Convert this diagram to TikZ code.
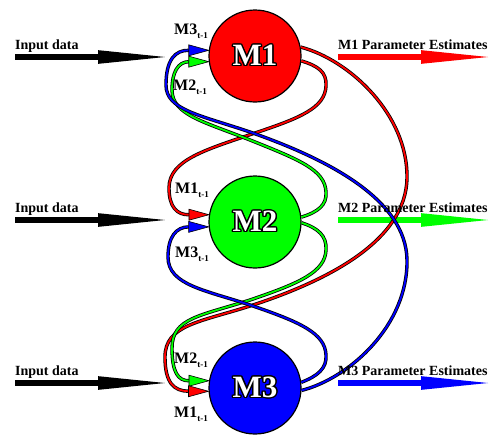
\documentclass[tikz,border=0pt]{standalone}
\usepackage{fontspec}
\setmainfont{Liberation Serif}
\usepackage{contour}
\contourlength{1.3pt}
\usetikzlibrary{arrows.meta, calc}

\tikzset{
  model/.style={circle, draw=black, line width=1.2pt, fill=#1, minimum size=92pt, inner sep=0pt, text=white, font=\fontsize{31}{31}\selectfont\bfseries},
  wire/.style={draw=#1, line width=1.8pt, preaction={draw=black, line width=3.4pt}},
  tiphead/.style={draw=black, line width=0.6pt, fill=#1},
  feed/.style={draw=#1, line width=5.5pt, -{Triangle[length=74pt, width=12pt]}},
  caption/.style={font=\fontsize{14}{14}\selectfont\bfseries, anchor=base west, inner sep=0pt},
  lag/.style={font=\fontsize{16}{16}\selectfont\bfseries, anchor=base west, inner sep=0pt}
}
\newcommand\prevstep[1]{#1\raisebox{-0.3em}{\fontsize{9}{9}\selectfont t-1}}

\begin{document}
\begin{tikzpicture}[x=1pt, y=-1pt]
  \useasboundingbox (0,0) rectangle (500,442);

  % Modelle
  \node[model=red] (m1) at (255,56) {\contour{black}{M1}};
  \node[model=green] (m2) at (255,222) {\contour{black}{M2}};
  \node[model=blue] (m3) at (255,388) {\contour{black}{M3}};

  % Eingaben
  \foreach \k/\y in {1/57, 2/220, 3/383} {
    \coordinate (in\k) at (15,\y);
    \coordinate (inend\k) at (172,\y);
    \draw[feed=black] (in\k) -- (inend\k);
    \node[caption] (intext\k) at (15,\y-7.5) {Input data};
  }

  % Ausgaben
  \foreach \k/\y/\c in {1/57/red, 2/220/green, 3/383/blue} {
    \coordinate (out\k) at (338,\y);
    \coordinate (outend\k) at (495,\y);
    \draw[feed=\c] (out\k) -- (outend\k);
  }

  % Pfeilbasen
  \coordinate (b1b) at ($(m1.173)+(-20,0)$);
  \coordinate (b1g) at ($(m1.187)+(-20,0)$);
  \coordinate (b2r) at ($(m2.171)+(-20,0)$);
  \coordinate (b2b) at ($(m2.186)+(-20,0)$);
  \coordinate (b3g) at ($(m3.171)+(-20,0)$);
  \coordinate (b3r) at ($(m3.184)+(-20,0)$);

  % M1 -> M3 und M1 -> M2
  \draw[wire=red] (m1.11) .. controls (350,60) and (408,115) .. (407,178)
    .. controls (406,240) and (330,280) .. (250,306)
    .. controls (200,322) and (165,325) .. (165,357)
    .. controls (165,383) and (174,391) .. (b3r);
  \draw[wire=red] (m1.-6) .. controls (318,66) and (327,72) .. (326,86)
    .. controls (325,108) and (300,118) .. (255,133)
    .. controls (205,150) and (169,160) .. (169,188)
    .. controls (169,207) and (177,215) .. (b2r);

  % M2 -> M1 und M2 -> M3
  \draw[wire=green] (m2.6) .. controls (318,212) and (327,205) .. (326,192)
    .. controls (325,170) and (300,160) .. (250,140)
    .. controls (205,122) and (172,115) .. (172,90)
    .. controls (172,72) and (178,62) .. (b1g);
  \draw[wire=green] (m2.-1) .. controls (318,228) and (327,236) .. (326,250)
    .. controls (325,272) and (300,283) .. (250,300)
    .. controls (200,316) and (172,318) .. (172,348)
    .. controls (172,372) and (178,381) .. (b3g);

  % M3 -> M2 und M3 -> M1
  \draw[wire=blue] (m3.7) .. controls (318,376) and (327,368) .. (326,355)
    .. controls (325,333) and (300,322) .. (250,305)
    .. controls (205,290) and (168,285) .. (168,257)
    .. controls (168,237) and (176,227) .. (b2b);
  \draw[wire=blue] (m3.-3) .. controls (350,378) and (408,325) .. (407,260)
    .. controls (406,200) and (330,160) .. (250,132)
    .. controls (200,115) and (166,110) .. (166,85)
    .. controls (166,60) and (175,50) .. (b1b);

  % Pfeilspitzen
  \draw[tiphead=blue] (m1.173) -- ($(b1b)+(0,-5.5)$) -- ($(b1b)+(0,5.5)$) -- cycle;
  \draw[tiphead=green] (m1.187) -- ($(b1g)+(0,-5.5)$) -- ($(b1g)+(0,5.5)$) -- cycle;
  \draw[tiphead=red] (m2.171) -- ($(b2r)+(0,-5.5)$) -- ($(b2r)+(0,5.5)$) -- cycle;
  \draw[tiphead=blue] (m2.186) -- ($(b2b)+(0,-5.5)$) -- ($(b2b)+(0,5.5)$) -- cycle;
  \draw[tiphead=green] (m3.171) -- ($(b3g)+(0,-5.5)$) -- ($(b3g)+(0,5.5)$) -- cycle;
  \draw[tiphead=red] (m3.184) -- ($(b3r)+(0,-5.5)$) -- ($(b3r)+(0,5.5)$) -- cycle;

  % Beschriftungen
  \node[caption] (est1) at (338,49) {M1 Parameter Estimates};
  \node[caption] (est2) at (338,212) {M2 Parameter Estimates};
  \node[caption] (est3) at (338,375) {M3 Parameter Estimates};

  \node[lag] (l13) at (174,34) {\prevstep{M3}};
  \node[lag] (l12) at (173,90) {\prevstep{M2}};
  \node[lag] (l21) at (175,193) {\prevstep{M1}};
  \node[lag] (l23) at (175,257) {\prevstep{M3}};
  \node[lag] (l32) at (174,363) {\prevstep{M2}};
  \node[lag] (l31) at (174,417) {\prevstep{M1}};
\end{tikzpicture}
\end{document}
